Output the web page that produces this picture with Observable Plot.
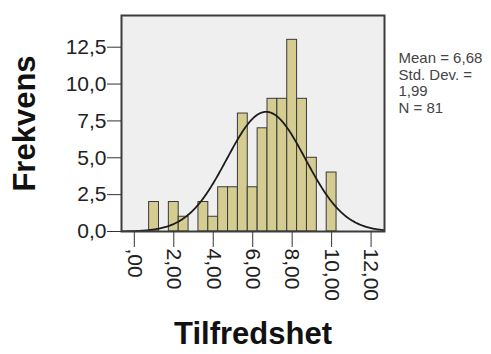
<!DOCTYPE html>
<html>
<head>
<meta charset="utf-8">
<script src="https://cdn.jsdelivr.net/npm/d3@7"></script>
<script src="https://cdn.jsdelivr.net/npm/@observablehq/plot@0.6"></script>
<style>
  html, body { margin: 0; padding: 0; background: #fff; }
</style>
</head>
<body>
<div id="chart"></div>
<script>
// Histogram bins (centers) and frequencies
const binCenters = [1, 2, 2.5, 3.5, 4, 4.5, 5, 5.5, 6, 6.5, 7, 7.5, 8, 8.5, 9, 10];
const counts     = [2, 2, 1,   2,   1, 3,   3, 8,   3, 7,   9, 9,   13, 9,  5, 4];
const binWidth = 0.5;

// Stated statistics (normal curve parameters)
const mean = 6.68;
const sd = 1.99;
const n = 81;
const statLabels = ["Mean = 6,68", "Std. Dev. =", "1,99", "N = 81"];

// Axis ticks and labels
const xTicks = [0, 2, 4, 6, 8, 10, 12];
const xTickLabels = [",00", "2,00", "4,00", "6,00", "8,00", "10,00", "12,00"];
const yTicks = [0, 2.5, 5, 7.5, 10, 12.5];
const yTickLabels = ["0,0", "2,5", "5,0", "7,5", "10,0", "12,5"];

const xTitle = "Tilfredshet";
const yTitle = "Frekvens";

const xDomain = [-0.65, 12.68];
const yDomain = [0, 14.65];

const bins = binCenters.map((c, i) => ({x1: c - binWidth / 2, x2: c + binWidth / 2, y: counts[i]}));

// Fitted normal curve from the stated mean / SD, scaled to counts
const curve = d3.range(xDomain[0], xDomain[1] + 0.001, 0.05).map(x => ({
  x,
  y: n * binWidth * Math.exp(-0.5 * ((x - mean) / sd) ** 2) / (sd * Math.sqrt(2 * Math.PI))
}));

const chart = Plot.plot({
  width: 491,
  height: 354,
  marginLeft: 121,
  marginRight: 107,
  marginTop: 15,
  marginBottom: 123,
  style: {fontFamily: "'Liberation Sans', Arial, sans-serif", background: "#fff", color: "#222"},
  x: {domain: xDomain},
  y: {domain: yDomain},
  marks: [
    Plot.frame({fill: "#efefef"}),
    Plot.rectY(bins, {x1: "x1", x2: "x2", y: "y", fill: "#d4cc90", stroke: "#3a3a3a", strokeWidth: 1}),
    Plot.line(curve, {x: "x", y: "y", stroke: "#1c1c1c", strokeWidth: 1.8, clip: true}),
    Plot.frame({stroke: "#3c3c3c", strokeWidth: 2}),
    Plot.axisX({
      ticks: xTicks,
      tickFormat: d => xTickLabels[xTicks.indexOf(d)],
      tickRotate: 90,
      tickSize: 16,
      tickPadding: 1,
      fontSize: 21,
      label: null,
      stroke: "#333"
    }),
    Plot.axisY({
      ticks: yTicks,
      tickFormat: d => yTickLabels[yTicks.indexOf(d)],
      tickSize: 14,
      tickPadding: 1,
      fontSize: 21,
      label: null,
      stroke: "#333"
    }),
    Plot.text([yTitle], {frameAnchor: "left", dx: -96, rotate: -90, textAnchor: "middle", lineAnchor: "middle", fontSize: 31, fontWeight: "bold", fill: "#111"}),
    Plot.text([xTitle], {frameAnchor: "bottom", dy: 112, textAnchor: "middle", fontSize: 31, fontWeight: "bold", fill: "#111"}),
    Plot.text([statLabels.join("\n")], {
      frameAnchor: "top-right", dx: 14, dy: 36, textAnchor: "start", lineAnchor: "top",
      fontSize: 15, lineHeight: 1.1, fill: "#444"
    })
  ]
});

document.getElementById("chart").appendChild(chart);
</script>
</body>
</html>
